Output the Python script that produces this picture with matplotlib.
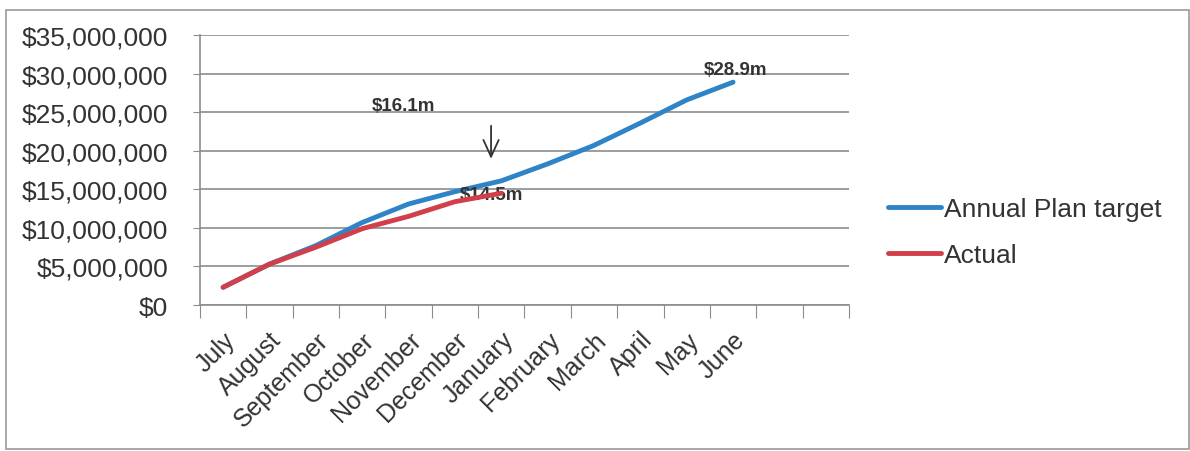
import matplotlib.pyplot as plt
import matplotlib.ticker as mticker
from matplotlib.patches import Rectangle
import numpy as np

plt.rcParams["font.family"] = ["Liberation Sans", "DejaVu Sans"]

# Fiscal year months (two extra empty category slots follow June on the axis).
months = ["July", "August", "September", "October", "November", "December",
          "January", "February", "March", "April", "May", "June"]
n_slots = 14

plan_target = [2.3, 5.3, 7.7, 10.7, 13.1, 14.7, 16.1, 18.3, 20.7, 23.6, 26.6, 28.9]  # $m
actual = [2.3, 5.3, 7.5, 9.9, 11.5, 13.4, 14.5]  # $m

BLUE = "#2E84C6"
RED = "#D13F4A"
GRID = "#8C8C8C"
TEXT = "#333333"

fig = plt.figure(figsize=(11.9, 4.52), dpi=100)
ax = fig.add_axes([0.168, 0.323, 0.5454, 0.597])

x_plan = np.arange(len(plan_target)) + 0.5
x_act = np.arange(len(actual)) + 0.5
ax.plot(x_plan, np.array(plan_target) * 1e6, color=BLUE, linewidth=3.5,
        solid_capstyle="round", label="Annual Plan target", zorder=3)
ax.plot(x_act, np.array(actual) * 1e6, color=RED, linewidth=3.5,
        solid_capstyle="round", label="Actual", zorder=4)

ax.set_xlim(0, n_slots)
ax.set_ylim(0, 35e6)
ax.set_yticks(np.arange(0, 35e6 + 1, 5e6))
ax.yaxis.set_major_formatter(mticker.FuncFormatter(lambda v, _: f"${v:,.0f}"))
ax.tick_params(axis="y", labelsize=19, labelcolor=TEXT, length=5, color=GRID, pad=18)

ax.set_xticks(np.arange(0, n_slots + 1))
ax.set_xticklabels([])
ax.set_xticks(x_plan, minor=True)
ax.set_xticklabels(months, minor=True, rotation=45, ha="right", rotation_mode="anchor",
                   fontsize=18, color=TEXT)
ax.tick_params(axis="x", which="major", length=9, color=GRID)
ax.tick_params(axis="x", which="minor", length=0, pad=16)

ax.grid(axis="y", color=GRID, linewidth=1.2)
for side in ["top", "right"]:
    ax.spines[side].set_visible(False)
for side in ["left", "bottom"]:
    ax.spines[side].set_color(GRID)
    ax.spines[side].set_linewidth(1.2)

# Annotations
ax.text(4.38, 25.9e6, "$16.1m", fontsize=13.5, fontweight="bold", color=TEXT, ha="center", va="center")
ax.text(11.56, 30.5e6, "$28.9m", fontsize=13.5, fontweight="bold", color=TEXT, ha="center", va="center")
ax.text(6.28, 14.3e6, "$14.5m", fontsize=13.5, fontweight="bold", color=TEXT, ha="center", va="center")
ax.annotate("", xy=(6.28, 18.6e6), xytext=(6.28, 23.6e6),
            arrowprops=dict(arrowstyle="->,head_length=1.2,head_width=0.55", color=TEXT, lw=1.3))

ax.legend(loc="center left", bbox_to_anchor=(1.024, 0.27), frameon=False, fontsize=19,
          handlelength=2.0, handletextpad=0.1, labelspacing=0.85, labelcolor=TEXT)

fig.add_artist(Rectangle((6 / 1190, 2 / 452), 1183 / 1190, 439 / 452, transform=fig.transFigure,
                         fill=False, edgecolor="#9A9A9A", linewidth=1.2))

fig.savefig("out.png", dpi=100)
